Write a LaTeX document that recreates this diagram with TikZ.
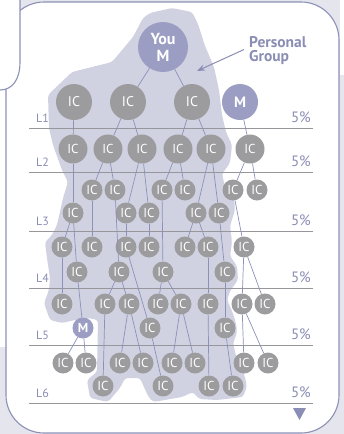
\documentclass[tikz,border=0pt]{standalone}
\usepackage{fontspec}
\setmainfont{PT Sans}
\usetikzlibrary{arrows.meta, positioning}

\definecolor{bggray}{RGB}{229,230,237}
\definecolor{framecol}{RGB}{140,145,182}
\definecolor{blobcol}{RGB}{208,210,226}
\definecolor{icgray}{RGB}{156,156,158}
\definecolor{mgrcol}{RGB}{155,157,194}
\definecolor{linkcol}{RGB}{140,145,185}
\definecolor{levelcol}{RGB}{150,150,155}
\definecolor{textcol}{RGB}{138,142,180}

\begin{document}
\begin{tikzpicture}[x=1pt, y=-1pt,
    ic/.style={circle, fill=icgray, text=white, inner sep=0pt, minimum size=21pt,
      font=\fontsize{13}{13}\selectfont},
    midic/.style={ic, minimum size=29pt},
    topic/.style={ic, minimum size=36pt, font=\fontsize{14}{14}\selectfont},
    mgr/.style={ic, fill=mgrcol, font=\bfseries\fontsize{13}{13}\selectfont},
    link/.style={draw=linkcol, line width=0.7pt},
    level/.style={draw=levelcol, line width=0.8pt},
    lvl/.style={text=textcol, inner sep=0pt, font=\fontsize{12}{12}\selectfont},
    pct/.style={text=textcol, inner sep=0pt, font=\fontsize{15}{15}\selectfont}]
  \useasboundingbox (0,0) rectangle (344,434);

  % background panels
  \fill[bggray] (0,0) rectangle (344,434);
  \fill[white] (0,0) rectangle (6,347);
  \fill[white] (340,0) rectangle (344,75);
  \draw[framecol, line width=1.1pt, fill=white, rounded corners=38pt] (6,2) rectangle (339,433);
  \fill[white] (0,0) -- (20,0) -- (20,62) .. controls (20,80) and (12,90) .. (0,90) -- cycle;
  \draw[framecol, line width=1.1pt] (20,0) -- (20,62) .. controls (20,80) and (12,90) .. (0,90);

  % personal group area
  \fill[blobcol, rounded corners=3pt] (150,13) -- (172,8) -- (192,12) -- (198,24) -- (205,46)
    -- (214,67) -- (219,90) -- (222,115) -- (226,132) -- (232,145) -- (230,163) -- (222,174)
    -- (225,187) -- (234,198) -- (235,210) -- (230,226) -- (232,242) -- (230,256) -- (237,266)
    -- (238,280) -- (230,291) -- (227,300) -- (232,311) -- (236,323) -- (237,333) -- (233,343)
    -- (237,360) -- (243,370) -- (247,386) -- (243,397) -- (217,400) -- (199,399) -- (193,392)
    -- (182,397) -- (153,402) -- (148,396) -- (140,378) -- (125,378) -- (120,388) -- (108,402)
    -- (90,398) -- (87,380) -- (97,372) -- (98,320) -- (88,318) -- (75,320) -- (62,323)
    -- (50,320) -- (44,303) -- (49,290) -- (50,278) -- (47,258) -- (45,242) -- (52,235)
    -- (57,225) -- (63,198) -- (68,182) -- (62,170) -- (53,145) -- (49,128) -- (48,95)
    -- (72,72) -- (112,62) -- (133,37) -- (143,18) -- cycle;

  % levels
  \foreach \i/\y in {1/128, 2/172, 3/231, 4/288, 5/345, 6/403} {
    \draw[level] (29,\y) -- (313,\y);
    \node[lvl, anchor=base west] (lab\i) at (36,\y-6) {L\i};
    \node[pct, anchor=base east] (pct\i) at (311,\y-6) {5\%};
  }
  \fill[textcol] (293,408) -- (306,408) -- (299.5,420) -- cycle;

  % members
  \node[mgr, minimum size=50pt, align=center, font=\bfseries\fontsize{16}{17}\selectfont]
    (you) at (163,47) {You\\M};
  \foreach \n/\x in {a/74, b/128, c/192}
    \node[topic] (l1\n) at (\x,102) {IC};
  \node[mgr, minimum size=36pt, font=\bfseries\fontsize{15}{15}\selectfont] (l1m) at (240,102) {M};
  \foreach \n/\x in {a/73, b/108, c/142, d/178, e/211, f/250}
    \node[midic] (l2\n) at (\x,149) {IC};
  \foreach \n/\x in {a/92, b/115, c/162, d/185, e/233, f/257}
    \node[ic] (l3\n) at (\x,190) {IC};
  \foreach \n/\x in {g/73, h/126, i/149, j/196, k/219}
    \node[ic] (l3\n) at (\x,213) {IC};
  \foreach \n/\x in {a/62, b/92, c/126, d/149, e/185, f/208, g/244}
    \node[ic] (l4\n) at (\x,247) {IC};
  \foreach \n/\x in {h/77, i/119, j/163, k/225}
    \node[ic] (l4\n) at (\x,272) {IC};
  \foreach \n/\x in {a/62, b/105, c/129, d/158, e/181, f/208, g/242, h/265}
    \node[ic] (l5\n) at (\x,304) {IC};
  \node[mgr] (l5m) at (83,328) {M};
  \foreach \n/\x in {i/150, j/225}
    \node[ic] (l5\n) at (\x,328) {IC};
  \foreach \n/\x in {a/63, b/86, c/120, d/143, e/172, f/195, g/244, h/268}
    \node[ic] (l6\n) at (\x,363) {IC};
  \foreach \n/\x in {i/103, j/163, k/209, l/233}
    \node[ic] (l6\n) at (\x,386) {IC};

  % sponsor lines
  \foreach \p/\c in {you/l1b, you/l1c,
      l1a/l2a, l1b/l2b, l1b/l2c, l1c/l2d, l1c/l2e, l1m/l2f,
      l2a/l3g, l2b/l3a, l2b/l3b, l2c/l3h, l2c/l3i, l2d/l3c, l2d/l3d, l2e/l3j, l2e/l3k, l2f/l3e, l2f/l3f,
      l3g/l4a, l3g/l4h, l3a/l4b, l3b/l4i, l3h/l4c, l3i/l4d, l3c/l4j, l3j/l4e, l3j/l4f, l3k/l4k, l3e/l4g,
      l4a/l5a, l4h/l5m, l4i/l5b, l4i/l5c, l4c/l5i, l4j/l5d, l4j/l5e, l4f/l5f, l4k/l5j, l4g/l5g, l4g/l5h,
      l5m/l6a, l5m/l6b, l5b/l6i, l5c/l6c, l5c/l6d, l5i/l6j, l5e/l6e, l5e/l6f, l5f/l6k, l5j/l6l, l5g/l6g, l5g/l6h}
    \draw[link] (\p) -- (\c);

  % label
  \node[text=textcol, anchor=north west, align=left, inner sep=0pt,
    font=\bfseries\fontsize{15.5}{14.5}\selectfont] (grouplabel) at (249,36) {Personal\\Group};
  \coordinate (grouptip) at (197,71);
  \draw[draw=textcol, line width=1pt, -{Stealth[length=8pt, width=6pt]}]
    ([xshift=-5pt, yshift=1pt]grouplabel.west) -- (grouptip);
\end{tikzpicture}
\end{document}
